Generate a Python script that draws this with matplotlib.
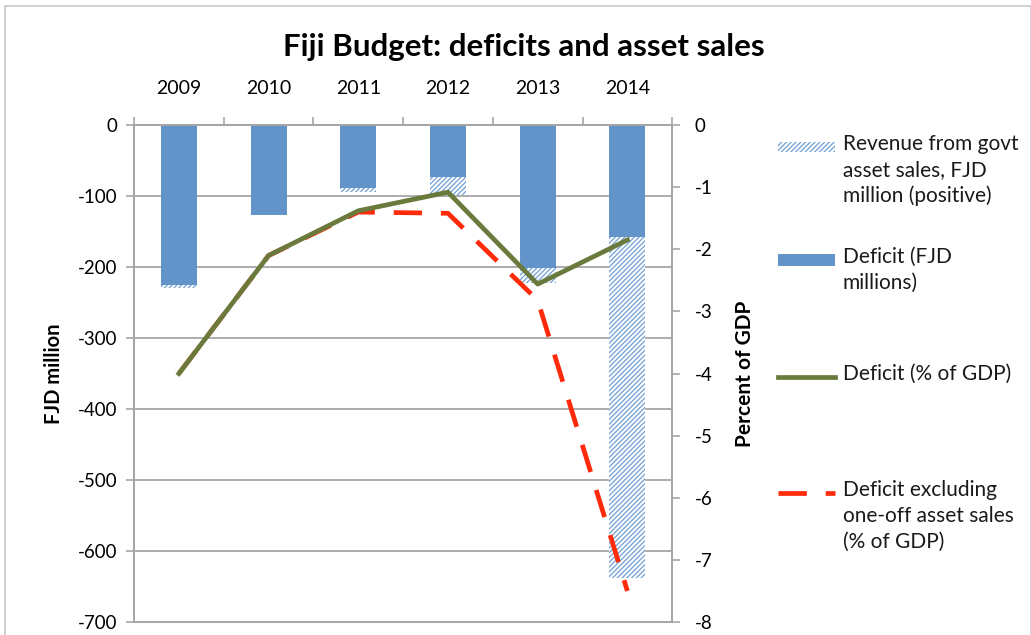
import matplotlib
matplotlib.use("Agg")
import matplotlib.pyplot as plt
import numpy as np
from matplotlib.patches import Rectangle
from matplotlib.lines import Line2D

years = ["2009", "2010", "2011", "2012", "2013", "2014"]
deficit_fjd = [-225, -127, -89, -73, -202, -158]
asset_sales_fjd = [5, 0, 5, 25, 20, 480]
deficit_pct = [-4.0, -2.1, -1.38, -1.08, -2.56, -1.85]
deficit_ex_pct = [-4.0, -2.1, -1.4, -1.42, -2.82, -7.5]

legend_labels = [
    "Revenue from govt\nasset sales, FJD\nmillion (positive)",
    "Deficit (FJD\nmillions)",
    "Deficit (% of GDP)",
    "Deficit excluding\none-off asset sales\n(% of GDP)",
]

plt.rcParams['font.family'] = ['Lato', 'DejaVu Sans']
plt.rcParams['hatch.linewidth'] = 0.9

BLUE = '#6394c9'
HATCH = '#6f9fd6'
GREEN = '#6a7a3c'
RED = '#ff2a0a'
GRID = '#a6a6a6'
W, H = 1031, 635

fig = plt.figure(figsize=(10.31, 6.35), dpi=100)
fig.patches.append(Rectangle((0.005, -0.01), 0.995, 1.0, transform=fig.transFigure,
                             fill=False, edgecolor='#c8c8c8', linewidth=1.2))

ax = fig.add_axes([0.130, 0.0205, 0.522, 0.7825])
x = np.arange(len(years))
bw = 0.4
ax.bar(x, deficit_fjd, width=bw, color=BLUE, zorder=2)
ax.bar(x, [-a for a in asset_sales_fjd], bottom=deficit_fjd, width=bw,
       color='white', edgecolor=HATCH, hatch='///////', linewidth=0, zorder=2)

ax.set_ylim(-700, 0)
ax.set_xlim(-0.5, len(years) - 0.5)
ax.set_yticks(np.arange(-700, 1, 100))
ax.set_yticklabels([str(v) for v in np.arange(-700, 1, 100)], fontsize=13.5)
ax.yaxis.grid(True, color=GRID, linewidth=1.3, zorder=0)
ax.set_axisbelow(True)

ax.xaxis.tick_top()
ax.set_xticks(np.arange(-0.5, len(years), 1.0))
ax.set_xticklabels([])
ax.set_xticks(x, minor=True)
ax.set_xticklabels(years, minor=True, fontsize=14)
ax.tick_params(axis='x', which='major', length=6, color=GRID, width=1.2)
ax.tick_params(axis='x', which='minor', length=0, pad=20)
ax.tick_params(axis='y', length=6, color=GRID, width=1.2, pad=6)
for s in ax.spines.values():
    s.set_color(GRID)
    s.set_linewidth(1.3)
ax.set_ylabel("FJD million", fontsize=14.5, fontweight='bold', labelpad=10)

ax2 = ax.twinx()
ax2.plot(x, deficit_ex_pct, color=RED, linewidth=3.4, dashes=(6, 4), zorder=3)
ax2.plot(x, deficit_pct, color=GREEN, linewidth=3.4, zorder=4)
ax2.set_ylim(-8, 0)
ax2.set_yticks(np.arange(-8, 1, 1))
ax2.set_yticklabels([str(v) for v in np.arange(-8, 1, 1)], fontsize=13.5)
ax2.tick_params(axis='y', length=6, color=GRID, width=1.2, pad=10)
for s in ax2.spines.values():
    s.set_color(GRID)
    s.set_linewidth(1.3)
ax2.set_ylabel("Percent of GDP", fontsize=15, fontweight='bold', labelpad=16)

fig.text(0.508, 0.926, "Fiji Budget: deficits and asset sales", ha='center', va='center',
         fontsize=22.5, fontweight='bold')

# manual legend (keys aligned with first text line)
kx0, kx1, tx = 778 / W, 835 / W, 843 / W
first_line_y = [147, 260, 377, 493]
fs = 15
for lab, yy in zip(legend_labels, first_line_y):
    fig.text(tx, 1 - (yy - 13) / H, lab, ha='left', va='top', fontsize=fs,
             color='#1a1a1a', linespacing=1.36)
ky = [1 - v / H for v in first_line_y]
fig.patches.append(Rectangle((kx0, ky[0] - 5 / H), kx1 - kx0, 10 / H, transform=fig.transFigure,
                             facecolor='white', edgecolor=HATCH, hatch='///////', linewidth=0))
fig.patches.append(Rectangle((kx0, ky[1] - 6 / H), kx1 - kx0, 12 / H, transform=fig.transFigure,
                             facecolor=BLUE, edgecolor='none'))
fig.lines.append(Line2D([kx0, kx1], [ky[2], ky[2]], transform=fig.transFigure,
                        color=GREEN, linewidth=3.4))
fig.lines.append(Line2D([kx0, kx1], [ky[3], ky[3]], transform=fig.transFigure,
                        color=RED, linewidth=3.4, dashes=(6, 4)))

fig.savefig("out.png", dpi=100)
